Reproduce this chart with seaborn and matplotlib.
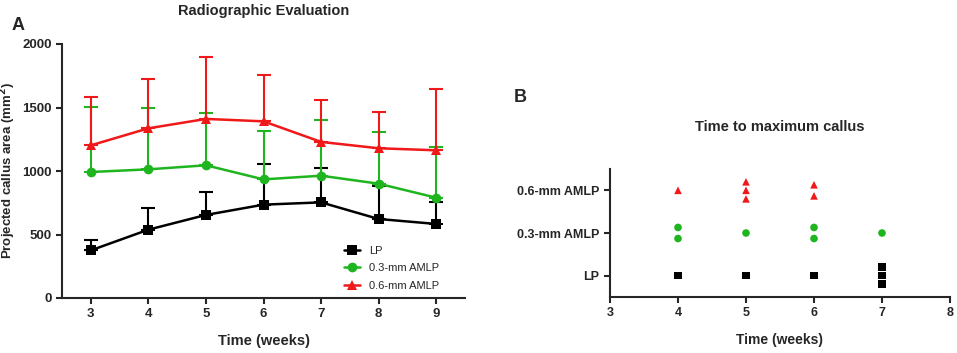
import numpy as np
import pandas as pd
import matplotlib
matplotlib.use('Agg')
import matplotlib.pyplot as plt
import seaborn as sns

sns.set_style('ticks')
plt.rcParams['font.family'] = ['Liberation Sans', 'DejaVu Sans']
plt.rcParams['font.weight'] = 'bold'
plt.rcParams['axes.linewidth'] = 1.5

# Panel A data
weeks = [3, 4, 5, 6, 7, 8, 9]
groups = ['LP', '0.3-mm AMLP', '0.6-mm AMLP']
lp_mean = [375, 538, 654, 735, 753, 622, 583]
lp_upper = [459, 711, 832, 1058, 1021, 879, 756]
amlp03_mean = [992, 1013, 1045, 934, 963, 900, 790]
amlp03_upper = [1501, 1496, 1454, 1318, 1404, 1307, 1189]
amlp06_mean = [1202, 1336, 1410, 1391, 1229, 1179, 1163]
amlp06_upper = [1580, 1722, 1900, 1753, 1557, 1467, 1646]

# Panel B data: week of maximum callus for each animal
lp_peak = [4, 5, 6, 7, 7, 7]
amlp03_peak = [4, 4, 5, 6, 6, 7]
amlp06_peak = [4, 5, 5, 5, 6, 6]

colors = {'LP': '#000000', '0.3-mm AMLP': '#1fb51f', '0.6-mm AMLP': '#f01818'}
markers = {'LP': 's', '0.3-mm AMLP': 'o', '0.6-mm AMLP': '^'}

means = {'LP': lp_mean, '0.3-mm AMLP': amlp03_mean, '0.6-mm AMLP': amlp06_mean}
uppers = {'LP': lp_upper, '0.3-mm AMLP': amlp03_upper, '0.6-mm AMLP': amlp06_upper}

dfa = pd.concat([pd.DataFrame({'week': weeks, 'area': means[g], 'group': g}) for g in groups])

fig = plt.figure(figsize=(9.57, 3.53), dpi=100)
W, H = 957, 353
axA = fig.add_axes([62 / W, 1 - 298 / H, (465 - 62) / W, (298 - 44) / H])
axB = fig.add_axes([610 / W, 1 - 297 / H, (950 - 610) / W, (297 - 169) / H])

# error bars (upper only)
for g in groups:
    m = np.array(means[g])
    up = np.array(uppers[g]) - m
    axA.errorbar(weeks, m, yerr=[np.zeros_like(up), up], fmt='none',
                 ecolor=colors[g], elinewidth=1.5, capsize=5, capthick=1.5, zorder=1)

sns.lineplot(data=dfa, x='week', y='area', hue='group', style='group',
             palette=colors, markers=markers, dashes=False, linewidth=1.8,
             markersize=7, markeredgewidth=0, ax=axA, zorder=3)

axA.set_xlim(2.5, 9.5)
axA.set_ylim(0, 2000)
axA.set_xticks(weeks)
axA.set_yticks([0, 500, 1000, 1500, 2000])
axA.tick_params(width=1.5, length=4, labelsize=9.5)
for lab in axA.get_xticklabels() + axA.get_yticklabels():
    lab.set_fontweight('bold')
axA.set_xlabel('Time (weeks)', fontsize=10.5, fontweight='bold', labelpad=10)
axA.set_ylabel('Projected callus area (mm$^\\mathbf{2}$)', fontsize=9.5, fontweight='bold')
axA.yaxis.set_label_coords(-44 / 403, 0.5)
axA.set_title('Radiographic Evaluation', fontsize=10.5, fontweight='bold', pad=21)
sns.despine(ax=axA)
leg = axA.legend(loc='lower right', bbox_to_anchor=(0.96, -0.01), frameon=False,
                 fontsize=8, handlelength=1.4, labelspacing=0.65)
for t in leg.get_texts():
    t.set_fontweight('normal')
fig.text(12 / W, 1 - 25 / H, 'A', fontsize=13, fontweight='bold', va='center')

# Panel B: column scatter
peaks = {'LP': lp_peak, '0.3-mm AMLP': amlp03_peak, '0.6-mm AMLP': amlp06_peak}
rows = []
for gi, g in enumerate(groups):
    vals = pd.Series(peaks[g])
    for wk, n in vals.value_counts().sort_index().items():
        step = 0.26 if n == 2 else 0.2
        offs = (np.arange(n) - (n - 1) / 2) * step
        for o in offs:
            rows.append({'week': wk, 'pos': gi + 1 + o, 'group': g})
dfb = pd.DataFrame(rows)

sns.scatterplot(data=dfb, x='week', y='pos', hue='group', style='group',
                palette=colors, markers=markers, s=30, linewidth=0,
                legend=False, ax=axB)
axB.set_xlim(3, 8)
axB.set_ylim(0.5, 3.5)
axB.set_xticks([3, 4, 5, 6, 7, 8])
axB.set_yticks([1, 2, 3])
axB.set_yticklabels(groups)
axB.tick_params(width=1.5, length=4, labelsize=9)
for lab in axB.get_xticklabels() + axB.get_yticklabels():
    lab.set_fontweight('bold')
axB.set_xlabel('Time (weeks)', fontsize=10, fontweight='bold', labelpad=10)
axB.set_ylabel('')
axB.set_title('Time to maximum callus', fontsize=10.5, fontweight='bold', pad=27)
sns.despine(ax=axB)
fig.text(514 / W, 1 - 97 / H, 'B', fontsize=13, fontweight='bold', va='center')

fig.savefig('out.png', dpi=100)
